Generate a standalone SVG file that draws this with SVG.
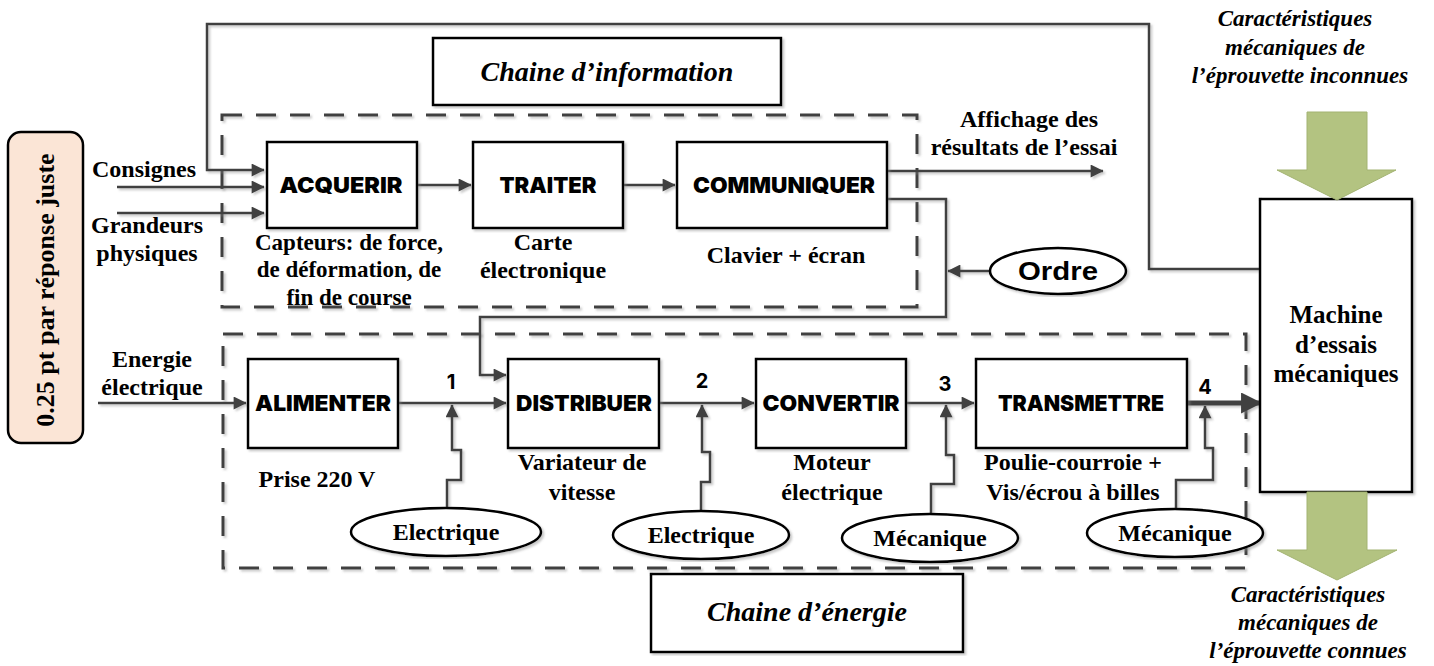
<svg xmlns="http://www.w3.org/2000/svg" width="1434" height="666" viewBox="0 0 1434 666">
<defs>
  <marker id="ah" viewBox="0 0 10 10" refX="9.5" refY="5" markerWidth="5.6" markerHeight="5.2" orient="auto" markerUnits="strokeWidth">
    <path d="M0,0 L10,5 L0,10 z" fill="#404040"/>
  </marker>
  <marker id="ahb" viewBox="0 0 10 10" refX="9.5" refY="5" markerWidth="5.6" markerHeight="4.2" orient="auto" markerUnits="strokeWidth">
    <path d="M0,0 L10,5 L0,10 z" fill="#404040"/>
  </marker>
  <filter id="sh" x="-5%" y="-5%" width="110%" height="110%">
    <feDropShadow dx="2" dy="2" stdDeviation="1" flood-color="#888" flood-opacity="0.45"/>
  </filter>
</defs>
<style>
  .box{fill:#fff;stroke:#000;stroke-width:2.5}
  .dash{fill:none;stroke:#404040;stroke-width:3;stroke-dasharray:20 14}
  .ln{fill:none;stroke:#404040;stroke-width:2.5}
  .t{font-family:"Liberation Serif","Times New Roman",serif;font-weight:bold;font-size:24px;fill:#000;text-anchor:middle}
  .ti{font-family:"Liberation Serif","Times New Roman",serif;font-weight:bold;font-style:italic;fill:#000;text-anchor:middle}
  .k{font-family:Inter,"Liberation Sans",sans-serif;font-weight:900;font-size:22px;fill:#000;text-anchor:middle}
  .n{font-family:Inter,"Liberation Sans",sans-serif;font-weight:700;font-size:20px;fill:#000;text-anchor:middle}
  .ell{fill:#fff;stroke:#000;stroke-width:2.5}
  .green{fill:#b3c381;stroke:#a3b372;stroke-width:1}
</style>

<!-- score badge -->
<g id="badge">
  <rect x="8" y="132" width="75" height="311" rx="13" fill="#fbe5d6" stroke="#000" stroke-width="2.5"/>
  <text class="t" style="font-size:26px" transform="translate(54,290) rotate(-90)">0.25 pt par réponse juste</text>
</g>

<!-- dashed chain frames -->
<g id="frame-info" filter="url(#sh)">
  <rect class="dash" x="222" y="115" width="695" height="192"/>
</g>
<g id="frame-energie" filter="url(#sh)">
  <rect class="dash" x="223" y="334" width="1023" height="234"/>
</g>

<!-- connectors -->
<g id="connectors" filter="url(#sh)">
  <path class="ln" d="M1259,269 H1149 V24 H207 V170 H264" marker-end="url(#ah)"/>
  <path class="ln" d="M117,187 H264" marker-end="url(#ah)"/>
  <path class="ln" d="M117,213 H264" marker-end="url(#ah)"/>
  <path class="ln" d="M417,185 H471" marker-end="url(#ah)"/>
  <path class="ln" d="M623,185 H675" marker-end="url(#ah)"/>
  <path class="ln" d="M887,171 H1103" marker-end="url(#ah)"/>
  <path class="ln" d="M887,199 H946 V317 H480 V375 H506" marker-end="url(#ah)"/>
  <path class="ln" d="M990,271 H948" marker-end="url(#ah)"/>
  <path class="ln" d="M98,403 H246" marker-end="url(#ah)"/>
  <path class="ln" d="M398,403 H506" marker-end="url(#ah)"/>
  <path class="ln" d="M659,403 H754" marker-end="url(#ah)"/>
  <path class="ln" d="M906,403 H974" marker-end="url(#ah)"/>
  <path fill="none" stroke="#404040" stroke-width="5" d="M1187,403 H1261" marker-end="url(#ahb)"/>
  <path class="ln" d="M447,508 V480 H461 V450 H452 V405" marker-end="url(#ah)"/>
  <path class="ln" d="M701,511 V482 H710 V452 H702 V405" marker-end="url(#ah)"/>
  <path class="ln" d="M931,514 V484 H954 V455 H946 V405" marker-end="url(#ah)"/>
  <path class="ln" d="M1176,509 V480 H1213 V448 H1205 V406" marker-end="url(#ah)"/>
</g>

<!-- title boxes -->
<g id="title-info">
  <rect class="box" x="433" y="38" width="348" height="67" filter="url(#sh)"/>
  <text class="ti" style="font-size:28px" x="607" y="81">Chaine d’information</text>
</g>
<g id="title-energie">
  <rect class="box" x="651" y="574" width="312" height="78" filter="url(#sh)"/>
  <text class="ti" style="font-size:28px" x="807" y="621">Chaine d’énergie</text>
</g>

<!-- information chain -->
<g id="acquerir">
  <rect class="box" x="267" y="142" width="150" height="86" filter="url(#sh)"/>
  <text class="k" x="341" y="193" textLength="123" lengthAdjust="spacingAndGlyphs">ACQUERIR</text>
</g>
<g id="traiter">
  <rect class="box" x="473" y="142" width="150" height="86" filter="url(#sh)"/>
  <text class="k" x="548" y="193" textLength="97" lengthAdjust="spacingAndGlyphs">TRAITER</text>
</g>
<g id="communiquer">
  <rect class="box" x="677" y="142" width="210" height="86" filter="url(#sh)"/>
  <text class="k" x="784" y="193" textLength="182" lengthAdjust="spacingAndGlyphs">COMMUNIQUER</text>
</g>
<g id="ordre">
  <ellipse class="ell" cx="1058" cy="271" rx="68" ry="23" filter="url(#sh)"/>
  <text x="1058" y="280" font-family="'Liberation Sans',Arial,sans-serif" font-weight="bold" font-size="25" text-anchor="middle" textLength="80" lengthAdjust="spacingAndGlyphs">Ordre</text>
</g>

<!-- energy chain -->
<g id="alimenter">
  <rect class="box" x="248" y="359" width="150" height="89" filter="url(#sh)"/>
  <text class="k" x="323" y="411" textLength="136" lengthAdjust="spacingAndGlyphs">ALIMENTER</text>
</g>
<g id="distribuer">
  <rect class="box" x="508" y="359" width="151" height="89" filter="url(#sh)"/>
  <text class="k" x="584" y="411" textLength="136" lengthAdjust="spacingAndGlyphs">DISTRIBUER</text>
</g>
<g id="convertir">
  <rect class="box" x="756" y="359" width="150" height="89" filter="url(#sh)"/>
  <text class="k" x="831" y="411" textLength="137" lengthAdjust="spacingAndGlyphs">CONVERTIR</text>
</g>
<g id="transmettre">
  <rect class="box" x="976" y="359" width="211" height="89" filter="url(#sh)"/>
  <text class="k" x="1081" y="411" textLength="166" lengthAdjust="spacingAndGlyphs">TRANSMETTRE</text>
</g>
<g id="machine">
  <rect class="box" x="1260" y="199" width="152" height="293" filter="url(#sh)"/>
  <text class="t" style="font-size:25px" x="1336" y="323">Machine</text>
  <text class="t" style="font-size:25px" x="1336" y="353">d’essais</text>
  <text class="t" style="font-size:25px" x="1336" y="382">mécaniques</text>
</g>

<!-- source ellipses -->
<g id="elec1">
  <ellipse class="ell" cx="446" cy="532" rx="95" ry="24" filter="url(#sh)"/>
  <text class="t" x="446" y="540">Electrique</text>
</g>
<g id="elec2">
  <ellipse class="ell" cx="701" cy="535" rx="88" ry="24" filter="url(#sh)"/>
  <text class="t" x="701" y="543">Electrique</text>
</g>
<g id="meca1">
  <ellipse class="ell" cx="930" cy="538" rx="88" ry="24" filter="url(#sh)"/>
  <text class="t" x="930" y="546">Mécanique</text>
</g>
<g id="meca2">
  <ellipse class="ell" cx="1175" cy="533" rx="88" ry="24" filter="url(#sh)"/>
  <text class="t" x="1175" y="541">Mécanique</text>
</g>

<!-- green arrows -->
<g id="arrow-in">
  <path class="green" d="M1307,112 H1367 V170 H1396 L1337,200 L1277,170 H1307 Z"/>
</g>
<g id="arrow-out">
  <path class="green" d="M1307,492 H1367 V550 H1397 L1337,580 L1277,550 H1307 Z"/>
</g>

<!-- labels -->
<g id="labels">
  <text class="t" x="144" y="177">Consignes</text>
  <text class="t" x="147" y="233">Grandeurs</text>
  <text class="t" x="147" y="261">physiques</text>
  <text class="t" style="font-size:23px" x="349" y="250">Capteurs: de force,</text>
  <text class="t" style="font-size:23px" x="349" y="277">de déformation, de</text>
  <text class="t" style="font-size:23px" x="349" y="305">fin de course</text>
  <text class="t" x="543" y="250">Carte</text>
  <text class="t" x="543" y="278">électronique</text>
  <text class="t" x="786" y="263">Clavier + écran</text>
  <text class="t" x="1029" y="127">Affichage des</text>
  <text class="t" x="1024" y="155">résultats de l’essai</text>
  <text class="t" x="152" y="367">Energie</text>
  <text class="t" x="152" y="395">électrique</text>
  <text class="t" x="317" y="487">Prise 220 V</text>
  <text class="t" x="582" y="470">Variateur de</text>
  <text class="t" x="582" y="500">vitesse</text>
  <text class="t" x="832" y="470">Moteur</text>
  <text class="t" x="832" y="500">électrique</text>
  <text class="t" x="1073" y="470">Poulie-courroie +</text>
  <text class="t" x="1073" y="500">Vis/écrou à billes</text>
  <text class="n" x="451" y="389">1</text>
  <text class="n" x="702" y="388">2</text>
  <text class="n" x="945" y="391">3</text>
  <text class="n" x="1205" y="394">4</text>
  <text class="ti" style="font-size:23px" x="1295" y="26">Caractéristiques</text>
  <text class="ti" style="font-size:23px" x="1295" y="55">mécaniques de</text>
  <text class="ti" style="font-size:23px" x="1300" y="83">l’éprouvette inconnues</text>
  <text class="ti" style="font-size:23px" x="1308" y="602">Caractéristiques</text>
  <text class="ti" style="font-size:23px" x="1308" y="630">mécaniques de</text>
  <text class="ti" style="font-size:23px" x="1308" y="658">l’éprouvette connues</text>
</g>
</svg>
